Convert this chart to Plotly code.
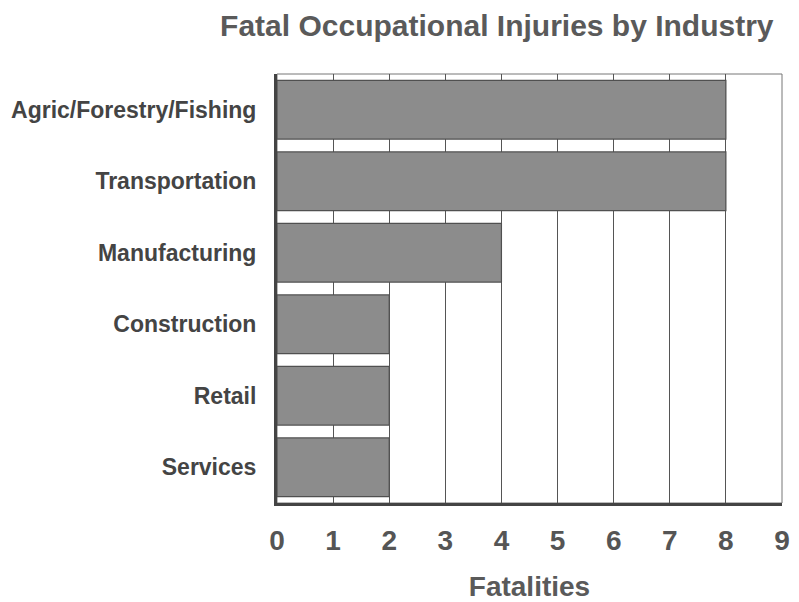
import plotly.graph_objects as go

categories = ["Agric/Forestry/Fishing", "Transportation", "Manufacturing",
              "Construction", "Retail", "Services"]
fatalities = [8, 8, 4, 2, 2, 2]
x_ticks = [0, 1, 2, 3, 4, 5, 6, 7, 8, 9]

FONT = "Liberation Sans, Arial, Helvetica, sans-serif"

fig = go.Figure()
fig.add_trace(go.Bar(
    y=categories, x=fatalities, orientation="h",
    marker=dict(color="#8c8c8c", line=dict(color="#505050", width=1.2)),
    width=0.82,
))

fig.update_layout(
    width=791, height=594,
    margin=dict(l=269, r=17, t=66, b=99, autoexpand=False),
    paper_bgcolor="white", plot_bgcolor="white",
    showlegend=False,
    font=dict(family=FONT, color="#555555"),
    title=dict(text="Fatal Occupational Injuries by Industry",
               xref="container", yref="container",
               x=0.618, xanchor="center", y=0.9697, yanchor="middle",
               font=dict(size=30, color="#5a5a5a", family=FONT, weight="bold")),
    xaxis=dict(range=[0, 9], tickvals=x_ticks, showgrid=True,
               gridcolor="#555555", gridwidth=1,
               showline=True, linecolor="#444444", linewidth=3,
               ticks="", ticklabelstandoff=10, automargin=False,
               tickfont=dict(size=28, color="#555555", family=FONT, weight="bold"),
               title=dict(text="Fatalities",
                          font=dict(size=28, color="#5a5a5a", family=FONT, weight="bold"),
                          standoff=22),
               zeroline=False, fixedrange=True),
    yaxis=dict(categoryorder="array", categoryarray=categories,
               showline=True, linecolor="#444444", linewidth=3,
               showgrid=False, ticks="", ticklabelstandoff=13, automargin=False,
               tickfont=dict(size=23, color="#444444", family=FONT, weight="bold"),
               range=[5.5, -0.5]),
)
fig.add_shape(type="rect", xref="paper", yref="paper", x0=0, x1=1, y0=0, y1=1,
              line=dict(color="#777777", width=1), layer="below")

fig.write_html("out.html")
